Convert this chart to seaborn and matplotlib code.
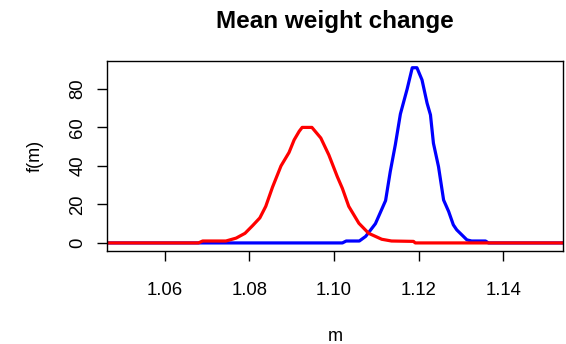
import matplotlib
matplotlib.use("Agg")
import matplotlib.pyplot as plt
import seaborn as sns
import pandas as pd

# density curves
red_m = [1.0450, 1.0680, 1.0690, 1.0745, 1.0769, 1.0790, 1.0808, 1.0825, 1.0839,
         1.0855, 1.0875, 1.0894, 1.0906, 1.0918, 1.0925, 1.0948, 1.0969, 1.0988,
         1.1008, 1.1020, 1.1035, 1.1059, 1.1082, 1.1113, 1.1136, 1.1188, 1.1192, 1.1560]
red_f = [0, 0, 1, 1, 2.5, 5, 9, 13, 19,
         29, 40, 47, 53.5, 58, 60, 60, 54.5, 45.7,
         34.4, 28.3, 19, 10.2, 5, 1.9, 1, 0.8, 0, 0]

blue_m = [1.0450, 1.1020, 1.1029, 1.1060, 1.1075, 1.1098, 1.1122, 1.1133, 1.1145,
          1.1157, 1.1173, 1.1185, 1.1196, 1.1208, 1.1220, 1.1228, 1.1235, 1.1247,
          1.1259, 1.1271, 1.1282, 1.1290, 1.1302, 1.1314, 1.1325, 1.1358, 1.1365, 1.1560]
blue_f = [0, 0, 1, 1, 3.4, 10, 22, 37, 51,
          67, 80, 91, 91, 84.7, 72.6, 66.5, 51.8, 39.6,
          22.3, 16.3, 9.4, 6.8, 4.2, 1.6, 1, 1, 0, 0]

x_ticks = [1.06, 1.08, 1.10, 1.12, 1.14]
y_ticks = [0, 20, 40, 60, 80]

sns.set_theme(style="ticks")
plt.rcParams['font.family'] = ['Liberation Sans', 'DejaVu Sans']
plt.rcParams['text.color'] = 'black'
plt.rcParams['axes.labelcolor'] = 'black'
plt.rcParams['xtick.color'] = 'black'
plt.rcParams['ytick.color'] = 'black'

blue_df = pd.DataFrame({"m": blue_m, "f": blue_f})
red_df = pd.DataFrame({"m": red_m, "f": red_f})

fig = plt.figure(figsize=(5.66, 3.44), dpi=100)
ax = fig.add_axes([0.189, 0.2703, 0.8057, 0.5524])

sns.lineplot(data=blue_df, x="m", y="f", ax=ax, color="#0000ff", linewidth=2.3,
             sort=False, estimator=None)
sns.lineplot(data=red_df, x="m", y="f", ax=ax, color="#ff0000", linewidth=2.3,
             sort=False, estimator=None)

ax.set_xlim(1.0464, 1.1541)
ax.set_ylim(-4.2, 94.5)
ax.set_xticks(x_ticks)
ax.set_xticklabels([f"{v:.2f}" for v in x_ticks])
ax.set_yticks(y_ticks)
ax.set_yticklabels([str(v) for v in y_ticks], rotation=90, va="center")

for s in ax.spines.values():
    s.set_color("black")
    s.set_linewidth(1.0)

ax.tick_params(axis="x", length=7, width=1, color="black", pad=15, labelsize=13.3)
ax.tick_params(axis="y", length=7, width=1, color="black", pad=8, labelsize=13.3)

ax.set_xlabel("m", fontsize=13, labelpad=21, color="black")
ax.set_ylabel("f(m)", fontsize=13, labelpad=18, color="black")
ax.set_title("Mean weight change", fontsize=17.5, fontweight="bold", pad=24,
             color="black")

fig.savefig("out.png", dpi=100)
